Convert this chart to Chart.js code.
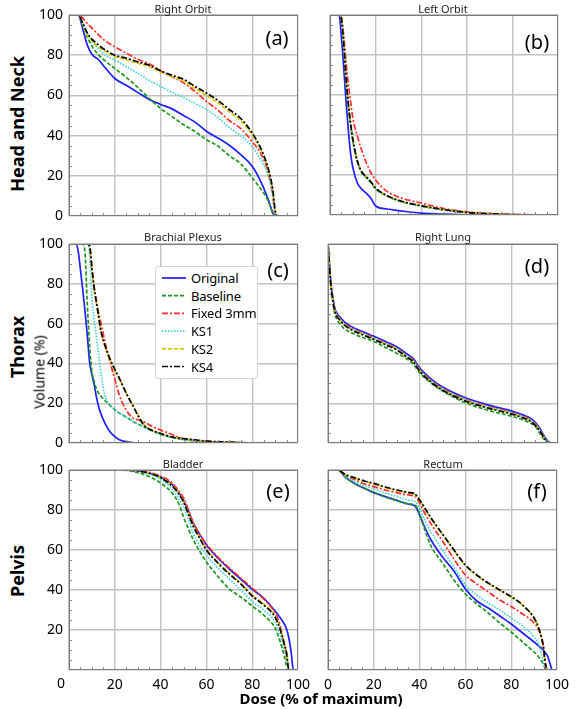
<!DOCTYPE html>
<html>
<head>
<meta charset="utf-8">
<script src="https://cdn.jsdelivr.net/npm/chart.js@4.4.0/dist/chart.umd.min.js"></script>
<style>
  body { margin: 0; background: #fff; width: 575px; height: 709px; position: relative; overflow: hidden; font-family: "Noto Sans", sans-serif; color: #000; }
  canvas { position: absolute; }
  .t { position: absolute; white-space: nowrap; transform: translate(-50%, -50%); }
  .title { font-size: 11px; color: #222; }
  .tag { font-size: 20px; }
  .row { font-size: 18px; font-weight: bold; transform: translate(-50%, -50%) rotate(-90deg); }
  #legend { position: absolute; left: 155px; top: 266px; width: 101px; height: 111px; border: 1px solid #d4d4d4; border-radius: 3px; background: #fff; z-index: 5; }
  #legend div { position: absolute; left: 35px; font-size: 13px; letter-spacing: -0.2px; transform: translateY(-50%); white-space: nowrap; }
  #legend svg { position: absolute; left: 0; top: 0; }
</style>
</head>
<body>
<canvas id="panelA"></canvas>
<canvas id="panelB"></canvas>
<canvas id="panelC"></canvas>
<canvas id="panelD"></canvas>
<canvas id="panelE"></canvas>
<canvas id="panelF"></canvas>

<div class="t title" style="left:183px;top:8px">Right Orbit</div>
<div class="t title" style="left:443px;top:8px">Left Orbit</div>
<div class="t title" style="left:183px;top:236px">Brachial Plexus</div>
<div class="t title" style="left:443px;top:236px">Right Lung</div>
<div class="t title" style="left:183px;top:463px">Bladder</div>
<div class="t title" style="left:443px;top:463px">Rectum</div>

<div class="t tag" style="left:277px;top:37px">(a)</div>
<div class="t tag" style="left:537px;top:41px">(b)</div>
<div class="t tag" style="left:278px;top:269px">(c)</div>
<div class="t tag" style="left:537px;top:265px">(d)</div>
<div class="t tag" style="left:278px;top:490px">(e)</div>
<div class="t tag" style="left:537px;top:490px">(f)</div>

<div class="t row" style="left:17px;top:124px">Head and Neck</div>
<div class="t row" style="left:17px;top:347px">Thorax</div>
<div class="t row" style="left:17px;top:571px">Pelvis</div>
<div class="t" style="left:39px;top:372px;font-size:14px;transform:translate(-50%,-50%) rotate(-90deg)">Volume (%)</div>
<div class="t" style="left:321px;top:698px;font-size:15px;font-weight:bold">Dose (% of maximum)</div>
<div class="t" style="left:61px;top:682px;font-size:14px">0</div>

<div id="legend"></div>

<script>
const doseTicks = [0, 20, 40, 60, 80, 100];
const volumeTicks = [0, 20, 40, 60, 80, 100];

const seriesNames = ["Original", "Baseline", "Fixed 3mm", "KS1", "KS2", "KS4"];
const seriesColors = ["#1f1fff", "#1e961e", "#ff2a2a", "#3cd2d2", "#d6c600", "#000000"];
const seriesDash = [[], [4, 2], [6, 2, 2, 2], [1.5, 1.5], [4, 2], [6, 2, 2, 2]];

// (a) Right Orbit
const rightOrbitDose = [0, 4, 6, 8, 10, 13, 16, 20, 25, 30, 35, 40, 45, 50, 55, 60, 65, 70, 75, 80, 84, 87, 89, 90, 91, 100];
const rightOrbitVol = [
  [100, 100, 93, 85, 80.5, 77.6, 73.5, 68.4, 65, 61.5, 58, 55.5, 53.3, 50, 46.7, 42.2, 38.8, 35.2, 30.5, 24.7, 16.5, 8.2, 1.5, 0, 0, 0],
  [100, 100, 95, 89, 84.5, 80, 77, 73.4, 69, 64, 58.5, 53.5, 49.5, 45.5, 42, 38, 34.8, 30, 26, 19, 13, 7.5, 1.5, 0, 0, 0],
  [100, 100, 98.5, 95.8, 93.5, 90, 87, 84.2, 81, 78, 75.8, 72.3, 69.3, 66.3, 62, 57, 52.7, 47.5, 43.5, 37, 30.5, 21.5, 10, 1, 0, 0],
  [100, 100, 96, 91, 87, 83, 80, 77.6, 74.3, 71, 67.5, 64.5, 61.5, 59, 56, 53, 49, 44, 40, 34.6, 27.5, 20, 10, 1, 0, 0],
  [100, 100, 95.5, 90, 87, 84, 81.7, 79.3, 77.7, 76, 74.3, 71.5, 69.3, 67, 63.5, 60, 56.3, 51.8, 47.3, 40.3, 32.3, 23, 12.5, 2.5, 0, 0],
  [100, 100, 96, 91, 88, 85, 82.5, 80, 78.5, 76.7, 75, 72.2, 70, 68, 64.5, 61.2, 57.5, 53, 48.5, 41.3, 33, 23.5, 13, 3, 0, 0]
];

// (b) Left Orbit
const leftOrbitDose = [0, 4, 5, 6, 7, 8, 9, 10, 12, 14, 16, 18, 20, 25, 30, 35, 40, 50, 60, 70, 80, 100];
const leftOrbitVol = [
  [100, 100, 89, 74, 57.5, 43, 31, 23.8, 16, 12.8, 10.8, 8.2, 4.5, 3, 2.2, 1.5, 0.9, 0.4, 0.1, 0, 0, 0],
  [100, 100, 98, 85.5, 68, 55, 45, 37, 26.5, 21, 18.5, 16, 13, 9.5, 7.1, 5.6, 4.4, 2.5, 1.2, 0.5, 0.1, 0],
  [100, 100, 99, 90, 77, 66, 57, 48.5, 39.5, 32, 26, 21, 17.5, 11.8, 9, 7.3, 6, 3.2, 1.6, 0.8, 0.3, 0],
  [100, 100, 98, 85.8, 68.5, 55.5, 45.5, 37.5, 26.8, 21.3, 18.7, 16.2, 13.2, 9.6, 7.2, 5.7, 4.5, 2.6, 1.2, 0.5, 0.1, 0],
  [100, 100, 98, 86, 69, 56, 46, 38, 27, 21.5, 19, 16.5, 13.5, 9.7, 7.3, 5.8, 4.6, 2.7, 1.3, 0.6, 0.2, 0],
  [100, 100, 98, 86, 69, 56, 46, 38, 27, 21.5, 19, 16.5, 13.5, 9.7, 7.3, 5.8, 4.6, 2.7, 1.3, 0.6, 0.2, 0]
];

// (c) Brachial Plexus
const plexusDose = [0, 3, 4, 5, 6, 7, 8, 9, 10, 11, 12, 13, 14, 16, 18, 20, 22, 25, 28, 30, 33, 36, 40, 45, 50, 55, 60, 70, 80, 100];
const plexusVol = [
  [100, 100, 96.5, 87, 77, 66, 54, 40.5, 34.5, 29.3, 23, 18, 14.5, 9.2, 5.5, 3.2, 1.6, 0.6, 0.2, 0, 0, 0, 0, 0, 0, 0, 0, 0, 0, 0],
  [100, 100, 100, 100, 100, 95, 69.5, 49, 36, 31, 27, 25, 23.5, 21, 18.8, 16.7, 15, 13, 10.8, 9.5, 8, 6.3, 4.3, 2.8, 1.7, 1, 0.5, 0.2, 0.1, 0],
  [100, 100, 100, 100, 100, 100, 100, 99, 88, 78, 71, 65, 60, 49.3, 40.5, 32, 24, 16.5, 12.5, 11.7, 10.5, 8.5, 6.5, 4.3, 2, 1.3, 0.8, 0.3, 0.1, 0],
  [100, 100, 100, 100, 100, 100, 100, 95, 73, 62, 53, 44, 34.5, 22.6, 19, 16.8, 15, 13, 10.8, 9.5, 8, 6.3, 4.3, 2.8, 1.7, 1, 0.5, 0.2, 0.1, 0],
  [100, 100, 100, 100, 100, 100, 100, 99, 88, 77, 70, 63, 56, 47.5, 41.5, 36.5, 32, 25, 18.5, 14.5, 9, 6.5, 4.8, 3, 2, 1.5, 0.9, 0.3, 0.1, 0],
  [100, 100, 100, 100, 100, 100, 100, 99, 88, 78, 70.5, 63, 56, 48, 42, 37, 32.5, 25, 18.5, 14, 8.5, 6.5, 4.8, 3, 2.2, 1.6, 1, 0.4, 0.1, 0]
];

// (d) Right Lung
const lungDose = [0, 0.5, 1, 1.5, 2, 3, 4, 5, 7, 10, 15, 20, 25, 30, 34, 37, 40, 45, 50, 60, 70, 80, 85, 88, 90, 92, 94, 95, 96, 97, 100];
const lungVol = [
  [100, 92, 84, 78, 74, 67.5, 65, 63.5, 61, 58.6, 56, 53.6, 51, 48.3, 45, 42.5, 37.5, 32, 28, 22.6, 19, 16, 14, 12.5, 10.5, 7.5, 3.5, 1.7, 0.5, 0, 0],
  [100, 91, 82.5, 76, 71.5, 64.5, 62, 60, 57.5, 55.5, 53, 51, 48, 45, 42.5, 39.8, 35, 30, 26, 20.1, 16.3, 13.4, 11.5, 10, 8.5, 5, 1.8, 0.5, 0, 0, 0],
  [100, 92, 83.5, 77.5, 73.5, 67, 64.3, 62.8, 60.3, 57.8, 55.2, 52.8, 50.2, 47.5, 44.2, 41.7, 36.8, 31.3, 27.3, 21.9, 18.3, 15.3, 13.3, 11.8, 9.8, 6.9, 3, 1.3, 0.3, 0, 0],
  [100, 92, 83.3, 77.3, 73.2, 66.6, 64, 62.5, 60, 57.6, 55, 52.6, 50, 47.3, 44, 41.5, 36.5, 31, 27, 21.7, 18.1, 15.1, 13.1, 11.6, 9.6, 6.7, 2.8, 1.2, 0.3, 0, 0],
  [100, 91.8, 83, 77, 72.8, 66.2, 63.7, 62.2, 59.7, 57.3, 54.7, 52.3, 49.7, 47, 43.7, 41.2, 36.2, 30.7, 26.7, 21.3, 17.7, 14.8, 12.8, 11.3, 9.3, 6.4, 2.6, 1.1, 0.2, 0, 0],
  [100, 91.7, 82.8, 76.7, 72.5, 66, 63.4, 61.9, 59.4, 57, 54.4, 52, 49.4, 46.7, 43.4, 40.9, 35.9, 30.4, 26.4, 21, 17.4, 14.5, 12.5, 11, 9, 6.2, 2.5, 1, 0.2, 0, 0]
];

// (e) Bladder
const bladderDose = [0, 20, 25, 30, 35, 40, 45, 48, 50, 52, 54, 57, 60, 65, 70, 75, 80, 85, 90, 92, 94, 95, 96, 97, 98, 100];
const bladderVol = [
  [100, 100, 100, 99.6, 98.5, 96.5, 92.8, 88.5, 85, 80, 74, 68, 62.5, 56, 50.5, 45.5, 40.3, 36, 29.5, 26.5, 23, 20.5, 16, 9, 0, 0],
  [100, 100, 99.8, 98.7, 96.7, 93.5, 88.5, 83, 76.5, 71, 65.8, 59.5, 54, 46.8, 40.5, 36.5, 32, 27.5, 21, 15, 7, 2, 0, 0, 0, 0],
  [100, 100, 100, 99.7, 98.8, 97, 93.5, 89.5, 86, 80.5, 74.5, 68, 63, 56.5, 51, 46, 41, 35.5, 28.5, 23, 13, 8, 0, 0, 0, 0],
  [100, 100, 100, 99.3, 98, 95.5, 90.5, 85.5, 81.5, 76, 69, 62.5, 57.5, 51, 45.5, 40, 34.3, 30, 24, 18.5, 10.5, 5, 0, 0, 0, 0],
  [100, 100, 100, 99.5, 98.5, 96.4, 92.4, 88.4, 84.5, 79, 73, 66.5, 60.5, 54, 48.5, 43.5, 37.5, 33, 27, 21.5, 13.5, 8.5, 0, 0, 0, 0],
  [100, 100, 100, 99.5, 98.4, 96.2, 92, 88, 84, 78.5, 72.5, 66, 60, 53.5, 48, 43, 37, 32.5, 26.5, 21, 13, 8.5, 0, 0, 0, 0]
];

// (f) Rectum
const rectumDose = [0, 4, 8, 12, 16, 20, 25, 30, 35, 38, 40, 42, 45, 50, 55, 60, 65, 70, 75, 80, 85, 90, 92, 94, 95, 96, 97, 98, 100];
const rectumVol = [
  [100, 100, 96, 93, 90.8, 88.7, 86.7, 84.8, 83, 82, 77.5, 72, 65, 56.5, 49.5, 40.5, 34.5, 31, 27, 23, 18.5, 14, 12, 10, 8.5, 6.7, 3, 0, 0],
  [100, 100, 96, 93, 90.8, 88.8, 86.5, 84.7, 83, 82.5, 78, 71, 62, 53.5, 45, 38, 33, 28.5, 23.5, 19, 14, 9, 6.5, 3, 0.5, 0, 0, 0, 0],
  [100, 100, 97, 95, 93, 91.7, 90, 88.7, 87.5, 86.8, 83.5, 79, 73, 64.5, 55.5, 47.5, 43, 39, 35, 31.7, 28, 23.5, 20, 12, 0, 0, 0, 0, 0],
  [100, 100, 96.5, 94, 92, 90.5, 88.5, 86.8, 85, 84.2, 81, 75.5, 69, 60, 51.5, 42.5, 37.5, 33.5, 30, 26, 22, 16.5, 13, 4, 0, 0, 0, 0, 0],
  [100, 100, 97.3, 95.7, 94.2, 93, 91.2, 89.7, 88.5, 87.7, 84.7, 81.2, 75.7, 67.7, 59.7, 52.2, 47.2, 43.2, 39.7, 36.4, 32.2, 25.7, 20.7, 11.7, 2.8, 0, 0, 0, 0],
  [100, 100, 97.5, 96, 94.5, 93.3, 91.5, 90, 88.8, 88, 85, 81.5, 76, 68, 60, 52.5, 47.5, 43.5, 40, 36.7, 32.5, 26, 21, 12, 3, 0, 0, 0, 0]
];

// box around the plot plus small inner minor ticks
const framePlugin = {
  id: "frame",
  afterDraw(chart) {
    const { ctx, chartArea: a, scales } = chart;
    ctx.save();
    ctx.strokeStyle = "#8a8a8a";
    ctx.lineWidth = 1;
    ctx.beginPath();
    for (let v = 5; v < 100; v += 5) {
      if (v % 20 === 0) continue;
      const px = Math.round(scales.x.getPixelForValue(v)) + 0.5;
      ctx.moveTo(px, a.bottom); ctx.lineTo(px, a.bottom - 3);
      const py = Math.round(scales.y.getPixelForValue(v)) + 0.5;
      ctx.moveTo(a.left, py); ctx.lineTo(a.left + 3, py);
    }
    ctx.stroke();
    ctx.strokeStyle = "#7a7a7a";
    ctx.strokeRect(Math.round(a.left) + 0.5, Math.round(a.top) + 0.5, Math.round(a.right - a.left) - 1, Math.round(a.bottom - a.top) - 1);
    ctx.restore();
  }
};

function drawPanel(id, box, dose, volumes, showX, showY, hideZero) {
  const padL = 40, padR = 14, padT = 10, padB = showX ? 28 : 10;
  const cv = document.getElementById(id);
  cv.width = box.w + padL + padR;
  cv.height = box.h + padT + padB;
  cv.style.left = (box.left - padL) + "px";
  cv.style.top = (box.top - padT) + "px";

  const tickFont = { family: "Noto Sans", size: 14 };
  const label = v => (hideZero && v === 0 ? "" : v);

  new Chart(cv, {
    type: "line",
    data: {
      datasets: volumes.map((vol, i) => ({
        label: seriesNames[i],
        data: dose.map((d, k) => ({ x: d, y: vol[k] })),
        borderColor: seriesColors[i],
        borderDash: seriesDash[i],
        borderWidth: 1.7,
        pointRadius: 0,
        fill: false,
        cubicInterpolationMode: "monotone",
        order: 6 - i
      }))
    },
    options: {
      responsive: false,
      animation: false,
      devicePixelRatio: 1,
      layout: { padding: { left: 0, right: padR, top: padT, bottom: 0 } },
      plugins: { legend: { display: false }, tooltip: { enabled: false } },
      scales: {
        x: {
          type: "linear", min: 0, max: 100,
          afterBuildTicks: s => { s.ticks = doseTicks.map(v => ({ value: v })); },
          ticks: { display: showX, font: tickFont, color: "#000", padding: 7, maxRotation: 0, callback: label },
          grid: { color: "#c2c2c2", lineWidth: 1.4, drawTicks: false },
          border: { display: false },
          afterFit: s => { s.height = padB; s.paddingLeft = 0; s.paddingRight = 0; }
        },
        y: {
          type: "linear", min: 0, max: 100,
          afterBuildTicks: s => { s.ticks = volumeTicks.map(v => ({ value: v })); },
          ticks: { display: showY, font: tickFont, color: "#000", padding: 6, callback: label },
          grid: { color: "#c2c2c2", lineWidth: 1.4, drawTicks: false },
          border: { display: false },
          afterFit: s => { s.width = padL; s.paddingTop = 0; s.paddingBottom = 0; }
        }
      }
    },
    plugins: [framePlugin]
  });
}

drawPanel("panelA", { left: 69, top: 15, w: 229, h: 201 }, rightOrbitDose, rightOrbitVol, false, true, false);
drawPanel("panelB", { left: 330, top: 15, w: 228, h: 200 }, leftOrbitDose, leftOrbitVol, false, false, false);
drawPanel("panelC", { left: 69, top: 244, w: 229, h: 199 }, plexusDose, plexusVol, false, true, false);
drawPanel("panelD", { left: 328, top: 244, w: 230, h: 199 }, lungDose, lungVol, false, false, false);
drawPanel("panelE", { left: 69, top: 470, w: 229, h: 200 }, bladderDose, bladderVol, true, true, true);
drawPanel("panelF", { left: 328, top: 470, w: 229, h: 200 }, rectumDose, rectumVol, true, false, false);

// legend inside panel (c)
const legend = document.getElementById("legend");
let svg = '<svg width="101" height="111">';
seriesNames.forEach((name, i) => {
  const y = 11 + i * 17.7;
  svg += '<line x1="6" x2="30" y1="' + y + '" y2="' + y + '" stroke="' + seriesColors[i] +
    '" stroke-width="1.7" stroke-dasharray="' + (seriesDash[i].join(",") || "none") + '"/>';
});
svg += "</svg>";
legend.innerHTML = svg;
seriesNames.forEach((name, i) => {
  const d = document.createElement("div");
  d.style.top = (11 + i * 17.7) + "px";
  d.textContent = name;
  legend.appendChild(d);
});
</script>
</body>
</html>
